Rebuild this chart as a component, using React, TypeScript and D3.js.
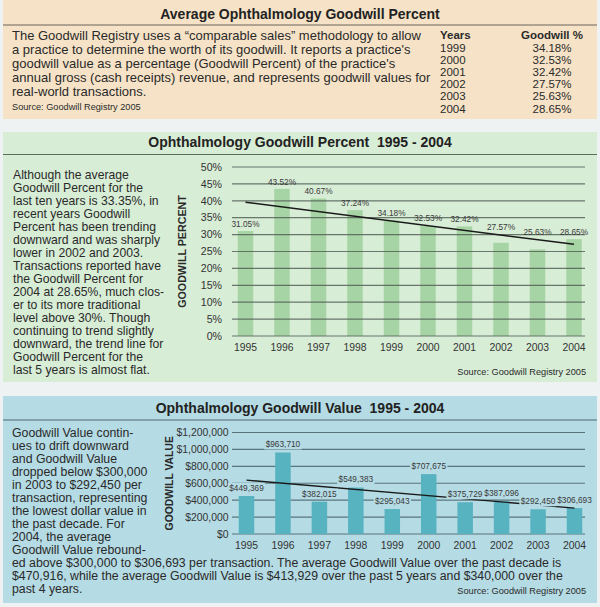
import React from "react";
import * as d3 from "d3";

const years = ["1995", "1996", "1997", "1998", "1999", "2000", "2001", "2002", "2003", "2004"];
const percentValues = [31.05, 43.52, 40.67, 37.24, 34.18, 32.53, 32.42, 27.57, 25.63, 28.65];
const dollarValues = [449369, 963710, 382015, 549383, 295043, 707675, 375729, 387096, 292450, 306693];
const percentTicks = [0, 5, 10, 15, 20, 25, 30, 35, 40, 45, 50];
const dollarTicks = [0, 200000, 400000, 600000, 800000, 1000000, 1200000];
const tableYears = ["1999", "2000", "2001", "2002", "2003", "2004"];
const tablePercents = ["34.18%", "32.53%", "32.42%", "27.57%", "25.63%", "28.65%"];

const title1 = "Average Ophthalmology Goodwill Percent";
const title2 = "Ophthalmology Goodwill Percent  1995 - 2004";
const title3 = "Ophthalmology Goodwill Value  1995 - 2004";
const source = "Source: Goodwill Registry 2005";

const intro = [
  "The Goodwill Registry uses a \u201Ccomparable sales\u201D methodology to allow",
  "a practice to determine the worth of its goodwill. It reports a practice's",
  "goodwill value as a percentage (Goodwill Percent) of the practice's",
  "annual gross (cash receipts) revenue, and represents goodwill values for",
  "real-world transactions.",
];
const percentText = [
  "Although the average",
  "Goodwill Percent for the",
  "last ten years is 33.35%, in",
  "recent years Goodwill",
  "Percent has been trending",
  "downward and was sharply",
  "lower in 2002 and 2003.",
  "Transactions reported have",
  "the Goodwill Percent for",
  "2004 at 28.65%, much clos-",
  "er to its more traditional",
  "level above 30%. Though",
  "continuing to trend slightly",
  "downward, the trend line for",
  "Goodwill Percent for the",
  "last 5 years is almost flat.",
];
const valueText = [
  "Goodwill Value contin-",
  "ues to drift downward",
  "and Goodwill Value",
  "dropped below $300,000",
  "in 2003 to $292,450 per",
  "transaction, representing",
  "the lowest dollar value in",
  "the past decade. For",
  "2004, the average",
  "Goodwill Value rebound-",
  "ed above $300,000 to $306,693 per transaction. The average Goodwill Value over the past decade is",
  "$470,916, while the average Goodwill Value is $413,929 over the past 5 years and $340,000 over the",
  "past 4 years.",
];

const FONT = "'Liberation Sans', Arial, Helvetica, sans-serif";
const TEXT = "#2a2a2a";
const BG1 = "#f6e3c7";
const BG2 = "#d8edd6";
const BG3 = "#b5dbe4";
const BAR2 = "#a7d4a5";
const BAR3 = "#58b3c1";

function regression(vals: number[]) {
  const n = vals.length;
  const mx = (n - 1) / 2;
  const my = d3.mean(vals) as number;
  let sxy = 0, sxx = 0;
  vals.forEach((v, i) => { sxy += (i - mx) * (v - my); sxx += (i - mx) * (i - mx); });
  const slope = sxy / sxx;
  return (i: number) => my + slope * (i - mx);
}

const fmtDollar = (v: number) => "$" + d3.format(",")(v);

export default function App() {
  const x2 = d3.scalePoint<string>().domain(years).range([245.5, 574]);
  const y2 = d3.scaleLinear().domain([0, 50]).range([336, 167]);
  const trend2 = regression(percentValues);
  const bw = 15.5;
  const gridL = 232, gridR = 585;

  const x3 = d3.scalePoint<string>().domain(years).range([246.5, 574.5]);
  const y3 = d3.scaleLinear().domain([0, 1200000]).range([534, 432.5]);
  const trend3 = regression(dollarValues);

  const line = d3.line<[number, number]>();

  const trendPts2: [number, number][] = [0, years.length - 1].map((i) => [x2(years[i]) as number, y2(trend2(i))]);
  const trendPts3: [number, number][] = [0, years.length - 1].map((i) => [x3(years[i]) as number, y3(trend3(i))]);

  const pctLabelY = (v: number, i: number) => {
    const top = y2(v) - 7;
    const t = y2(trend2(i));
    if (Math.abs(top - t) < 8) return t - 8;
    return top;
  };

  const pre = { whiteSpace: "pre" as const };
  const dollarLabels = dollarValues.map((v) => fmtDollar(v));
  const dollarLabelY = dollarValues.map((v) => y3(v) - 8);
  const LFS = 8.3;

  return (
    <svg width={600} height={607} style={{ position: "absolute", left: 0, top: 0, fontFamily: FONT }}>
      <rect x={0} y={0} width={600} height={607} fill="#eef2f3" />

      {/* Panel 1 */}
      <rect x={3} y={0} width={594} height={119} fill={BG1} />
      <text x={300} y={14} textAnchor="middle" dy="0.35em" fontSize={14} fontWeight="bold" fill="#222" style={pre}>{title1}</text>
      <line x1={3} x2={597} y1={25} y2={25} stroke="#6b625a" strokeWidth={1} />
      {intro.map((s, i) => (
        <text key={i} x={12} y={35 + i * 14} dy="0.35em" fontSize={13} fill={TEXT}>{s}</text>
      ))}
      <text x={12} y={107} dy="0.35em" fontSize={9.2} fill={TEXT}>{source}</text>
      <text x={440} y={35} dy="0.35em" fontSize={11.5} fontWeight="bold" fill={TEXT}>Years</text>
      <text x={552} y={35} dy="0.35em" fontSize={11.5} fontWeight="bold" fill={TEXT} textAnchor="middle">Goodwill %</text>
      {tableYears.map((yv, i) => (
        <g key={yv}>
          <text x={440} y={47.5 + i * 12.2} dy="0.35em" fontSize={11.5} fill={TEXT}>{yv}</text>
          <text x={552} y={47.5 + i * 12.2} dy="0.35em" fontSize={11.5} fill={TEXT} textAnchor="middle">{tablePercents[i]}</text>
        </g>
      ))}

      {/* Panel 2 */}
      <rect x={3} y={132} width={594} height={250} fill={BG2} />
      <text x={300} y={142} textAnchor="middle" dy="0.35em" fontSize={14} fontWeight="bold" fill="#222" style={pre}>{title2}</text>
      <line x1={3} x2={597} y1={154.5} y2={154.5} stroke="#5e6a5e" strokeWidth={1} />
      {percentText.map((s, i) => (
        <text key={i} x={13} y={175 + i * 13} dy="0.35em" fontSize={12.2} fill={TEXT}>{s}</text>
      ))}
      <text transform={`translate(182,${(y2(0) + y2(50)) / 2}) rotate(-90)`} textAnchor="middle" dy="0.35em" fontSize={10.7} fontWeight="bold" fill="#2a2a2a">GOODWILL PERCENT</text>
      {years.map((yr, i) => (
        <rect key={yr} x={(x2(yr) as number) - bw / 2} y={y2(percentValues[i])} width={bw} height={y2(0) - y2(percentValues[i])} fill={BAR2} />
      ))}
      {percentTicks.map((t) => (
        <g key={t}>
          <line x1={gridL} x2={gridR} y1={y2(t)} y2={y2(t)} stroke="#55625a" strokeWidth={1.2} opacity={0.85} />
          <text x={222} y={y2(t)} dy="0.35em" textAnchor="end" fontSize={10.6} fill="#333">{t + "%"}</text>
        </g>
      ))}
      <path d={line(trendPts2) as string} stroke="#1a1a1a" strokeWidth={1.5} fill="none" />
      {years.map((yr, i) => (
        <g key={yr}>
          <text x={x2(yr) as number} y={pctLabelY(percentValues[i], i)} dy="0.35em" textAnchor="middle" fontSize={LFS} fill="#3a3a3a">{percentValues[i].toFixed(2) + "%"}</text>
          <text x={x2(yr) as number} y={347.5} dy="0.35em" textAnchor="middle" fontSize={10.4} fill="#333">{yr}</text>
        </g>
      ))}
      <text x={586} y={371.5} dy="0.35em" textAnchor="end" fontSize={9.2} fill={TEXT}>{source}</text>

      {/* Panel 3 */}
      <rect x={3} y={396} width={594} height={207} fill={BG3} />
      <text x={300} y={408} textAnchor="middle" dy="0.35em" fontSize={14} fontWeight="bold" fill="#222" style={pre}>{title3}</text>
      <line x1={3} x2={597} y1={420} y2={420} stroke="#4f6a70" strokeWidth={1} />
      {valueText.map((s, i) => (
        <text key={i} x={12} y={433 + i * 13} dy="0.35em" fontSize={12.3} fill={TEXT}>{s}</text>
      ))}
      <text transform={`translate(169,${(y3(0) + y3(1200000)) / 2}) rotate(-90)`} textAnchor="middle" dy="0.35em" fontSize={10.4} fontWeight="bold" fill="#2a2a2a">GOODWILL VALUE</text>
      {dollarTicks.map((t) => (
        <g key={t}>
          <line x1={gridL} x2={gridR} y1={y3(t)} y2={y3(t)} stroke="#4a646b" strokeWidth={1.2} opacity={0.85} />
          <text x={228.5} y={y3(t)} dy="0.35em" textAnchor="end" fontSize={10.4} fill="#333">{fmtDollar(t)}</text>
        </g>
      ))}
      {years.map((yr, i) => (
        <rect key={yr} x={(x3(yr) as number) - bw / 2} y={y3(dollarValues[i])} width={bw} height={y3(0) - y3(dollarValues[i])} fill={BAR3} />
      ))}
      <path d={line(trendPts3) as string} stroke="#1a1a1a" strokeWidth={1.4} fill="none" />
      {years.map((yr, i) => {
        const w = dollarLabels[i].length * 4.3 + 3;
        return (
          <rect key={"bg" + yr} x={(x3(yr) as number) - w / 2} y={dollarLabelY[i] - 5} width={w} height={10} fill={BG3} />
        );
      })}
      {years.map((yr, i) => (
        <g key={yr}>
          <text x={x3(yr) as number} y={dollarLabelY[i]} dy="0.35em" textAnchor="middle" fontSize={LFS} fill="#3a3a3a">{dollarLabels[i]}</text>
          <text x={x3(yr) as number} y={545} dy="0.35em" textAnchor="middle" fontSize={10.4} fill="#333">{yr}</text>
        </g>
      ))}
      <text x={586} y={590.5} dy="0.35em" textAnchor="end" fontSize={9.2} fill={TEXT}>{source}</text>
    </svg>
  );
}
